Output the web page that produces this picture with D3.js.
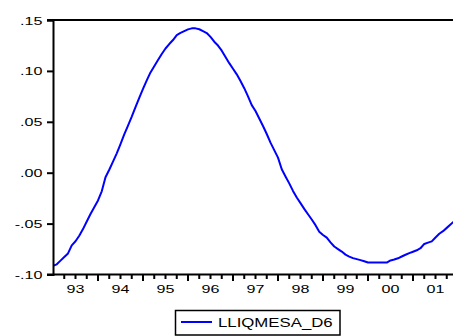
<!DOCTYPE html>
<html>
<head>
<meta charset="utf-8">
<script src="https://cdn.jsdelivr.net/npm/d3@7/dist/d3.min.js"></script>
<style>
  html, body { margin: 0; padding: 0; background: #fff; }
  svg { display: block; }
  text { font-family: "Liberation Sans", Arial, sans-serif; fill: #000; }
</style>
</head>
<body>
<svg id="chart" width="453" height="336"></svg>
<script>
// Monthly series LLIQMESA_D6, 1993M01 onward
const startYear = 1993;
const seriesName = "LLIQMESA_D6";
const values = [
  -0.0915, -0.0900, -0.0864, -0.0828, -0.0793, -0.0714, -0.0673, -0.0619, -0.0554, -0.0480, -0.0406, -0.0340,
  -0.0273, -0.0183, -0.0045,  0.0029,  0.0109,  0.0190,  0.0281,  0.0376,  0.0463,  0.0551,  0.0645,  0.0736,
   0.0823,  0.0906,  0.0985,  0.1046,  0.1107,  0.1166,  0.1220,  0.1264,  0.1303,  0.1352,  0.1373,  0.1390,
   0.1408,  0.1418,  0.1418,  0.1409,  0.1391,  0.1372,  0.1334,  0.1287,  0.1249,  0.1199,  0.1136,  0.1076,
   0.1021,  0.0966,  0.0900,  0.0830,  0.0749,  0.0664,  0.0606,  0.0533,  0.0459,  0.0380,  0.0295,  0.0222,
   0.0148,  0.0034, -0.0037, -0.0105, -0.0179, -0.0244, -0.0299, -0.0355, -0.0408, -0.0460, -0.0515, -0.0579,
  -0.0612, -0.0638, -0.0685, -0.0725, -0.0750, -0.0775, -0.0805, -0.0824, -0.0839, -0.0849, -0.0859, -0.0870,
  -0.0882, -0.0883, -0.0883, -0.0883, -0.0883, -0.0883, -0.0862, -0.0853, -0.0841, -0.0823, -0.0806, -0.0790,
  -0.0776, -0.0762, -0.0742, -0.0700, -0.0687, -0.0675, -0.0636, -0.0600, -0.0574, -0.0542, -0.0509, -0.0476
];
const yTickValues = [-0.10, -0.05, 0.00, 0.05, 0.10, 0.15];
const yTickLabels = ["-.10", "-.05", ".00", ".05", ".10", ".15"];
const yearLabels = ["93", "94", "95", "96", "97", "98", "99", "00", "01"];

const data = values.map((v, i) => ({ t: startYear + i / 12, v }));

const svg = d3.select("#chart");
const W = 453;
const plotLeft = 53, plotTop = 20, plotBottom = 274.5;
const yearWidth = 45;
const stretch = 1.4; // horizontally widened lettering

const x = d3.scaleLinear()
  .domain([startYear, startYear + yearLabels.length])
  .range([plotLeft, plotLeft + yearWidth * yearLabels.length]);
const y = d3.scaleLinear().domain([-0.10, 0.15]).range([plotBottom, plotTop]);

// data line, clipped to the plot area
svg.append("clipPath").attr("id", "plotClip")
  .append("rect").attr("x", plotLeft).attr("y", plotTop - 2)
  .attr("width", W - plotLeft).attr("height", plotBottom - plotTop + 4);

svg.append("path")
  .datum(data)
  .attr("clip-path", "url(#plotClip)")
  .attr("fill", "none")
  .attr("stroke", "#0000ff")
  .attr("stroke-width", 2)
  .attr("stroke-linejoin", "round")
  .attr("d", d3.line().x(d => x(d.t)).y(d => y(d.v)));

// frame: top border
svg.append("line")
  .attr("x1", plotLeft - 6).attr("x2", W).attr("y1", plotTop).attr("y2", plotTop)
  .attr("stroke", "#000").attr("stroke-width", 2);

// left axis
const yAxis = d3.axisLeft(y)
  .tickValues(yTickValues)
  .tickSize(6)
  .tickFormat((d, i) => yTickLabels[i]);
const gy = svg.append("g").attr("transform", `translate(${plotLeft},0)`).call(yAxis);
gy.select(".domain").attr("stroke", "#000").attr("stroke-width", 2);
gy.selectAll(".tick line").attr("stroke", "#000").attr("stroke-width", 2);
gy.selectAll(".tick text").remove();
gy.selectAll(".tick").append("text")
  .attr("transform", `translate(-10.5,4) scale(${stretch},1)`)
  .attr("text-anchor", "end")
  .attr("font-size", 11.5)
  .text((d, i) => yTickLabels[i]);

// bottom axis: quarterly minor ticks, yearly major ticks
const quarterTicks = d3.range(0, yearLabels.length * 4 + 1).map(q => startYear + q / 4);
const gx = svg.append("g");
gx.append("line")
  .attr("x1", plotLeft - 6).attr("x2", W).attr("y1", plotBottom).attr("y2", plotBottom)
  .attr("stroke", "#000").attr("stroke-width", 2);
gx.selectAll("line.tick")
  .data(quarterTicks.filter(t => x(t) > plotLeft + 1 && x(t) < W))
  .join("line")
  .attr("class", "tick")
  .attr("x1", d => x(d)).attr("x2", d => x(d))
  .attr("y1", plotBottom)
  .attr("y2", d => plotBottom + (Math.abs(d - Math.round(d)) < 1e-9 ? 6.5 : 4.5))
  .attr("stroke", "#000").attr("stroke-width", 2);
gx.selectAll("text.year")
  .data(yearLabels)
  .join("text")
  .attr("class", "year")
  .attr("transform", (d, i) => `translate(${x(startYear + i + 0.5)},${plotBottom + 18.2}) scale(${stretch},1)`)
  .attr("text-anchor", "middle")
  .attr("font-size", 11.5)
  .text(d => d);

// legend
const lg = svg.append("g");
lg.append("rect")
  .attr("x", 175.5).attr("y", 310.5).attr("width", 164.5).attr("height", 24.5)
  .attr("fill", "#fff").attr("stroke", "#000").attr("stroke-width", 1.5);
lg.append("line")
  .attr("x1", 181).attr("x2", 212).attr("y1", 322).attr("y2", 322)
  .attr("stroke", "#0000ff").attr("stroke-width", 2);
lg.append("text")
  .attr("transform", `translate(218,326.5) scale(${stretch},1)`)
  .attr("font-size", 12)
  .text(seriesName);
</script>
</body>
</html>
